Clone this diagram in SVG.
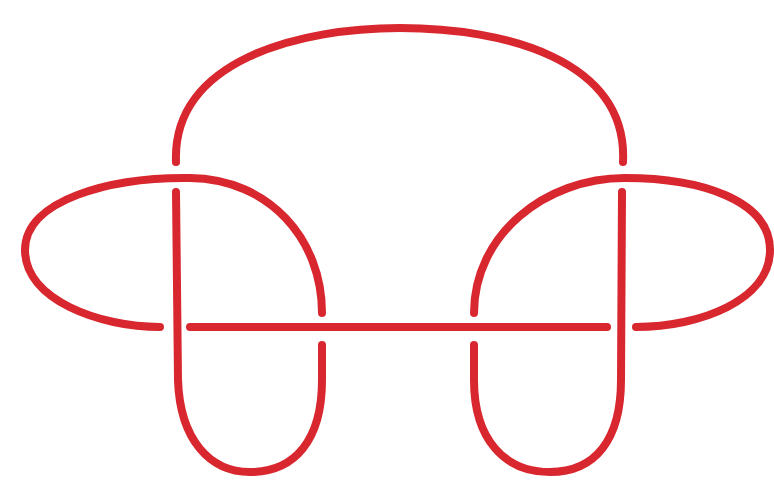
<svg xmlns="http://www.w3.org/2000/svg" width="774" height="480" viewBox="0 0 774 480">
<style>
.k{fill:none;stroke:#d9272f;stroke-width:8;stroke-linecap:round;stroke-linejoin:round}
</style>
<rect width="774" height="480" fill="#fff"/>
<g id="knot">
<path class="k" d="M176,162 C172,60 300,28 400,28 C505,28 628,60 623,162"/>
<path class="k" d="M176,192 L178,380 C180,440 210,472 250,472 C295,472 322,440 322,380 L322,345"/>
<path class="k" d="M322,313 C322,240 270,179 190,178 C110,177 25,200 25,250 C25,300 100,327 160,327"/>
<path class="k" d="M190,327 L607,327"/>
<path class="k" d="M636,327 C700,327 770,300 770,250 C770,200 700,178 625,178 C545,178 474,235 474,313"/>
<path class="k" d="M474,345 L474,380 C474,440 505,472 550,472 C595,472 621,440 621,380 L622,192"/>
</g>
</svg>
